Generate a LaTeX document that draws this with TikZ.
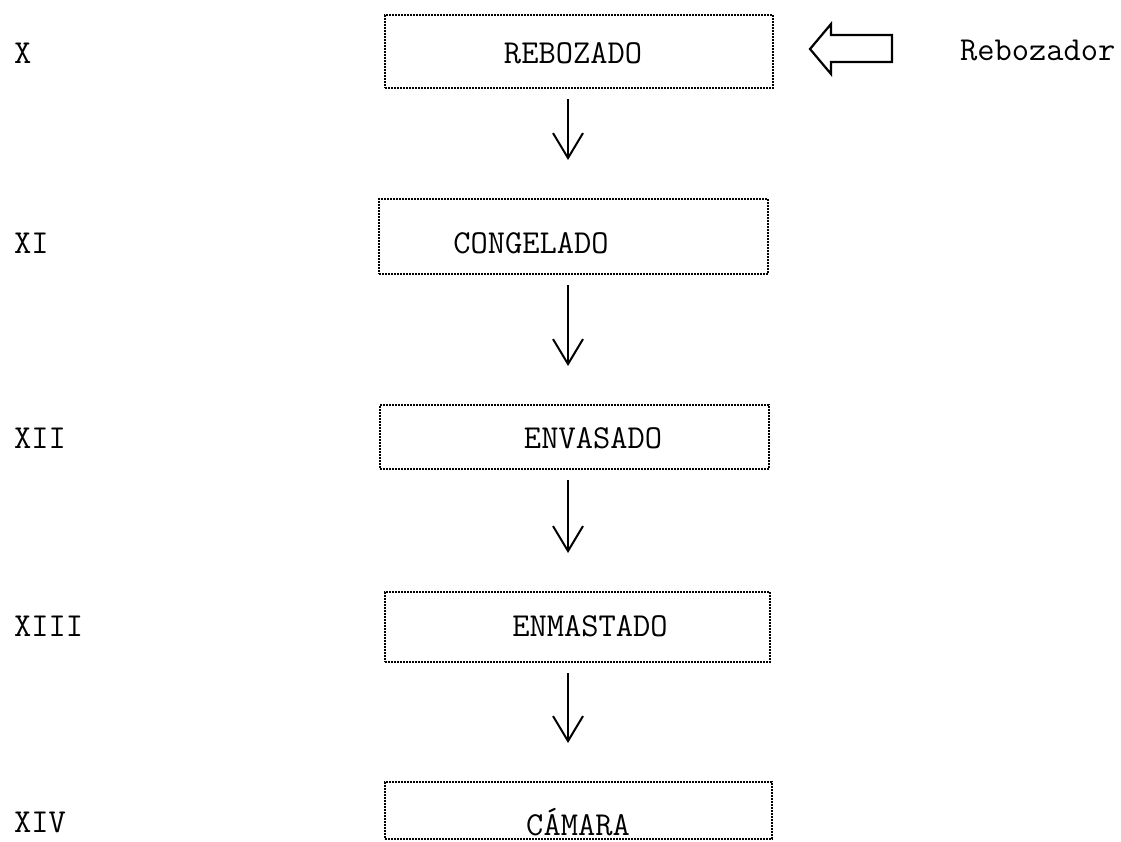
\documentclass[tikz,border=0pt]{standalone}
\usepackage{fontspec}
\usetikzlibrary{arrows.meta}
\begin{document}
\begin{tikzpicture}[x=1pt,y=1pt,
  box/.style={draw=black, line width=2pt, dash pattern=on 1.6pt off 1.4pt, inner sep=0pt, anchor=center},
  txt/.style={font=\ttfamily\fontsize{33.5}{35}\selectfont, inner sep=0pt},
  lbl/.style={font=\ttfamily\fontsize{33.5}{35}\selectfont, inner sep=0pt, anchor=west},
  flow/.style={line width=2pt, -{Straight Barb[length=25pt,width=30pt,line width=2pt]}, shorten <=10pt, shorten >=38pt},
  hollow/.style={line width=2.2pt, line join=miter}
]
\useasboundingbox (0,0) rectangle (1121,-841);
% boxes
\node[box, minimum width=388pt, minimum height=73pt] (b1) at (579,-51.5) {};
\node[box, minimum width=389pt, minimum height=75pt] (b2) at (573.5,-236.5) {};
\node[box, minimum width=389pt, minimum height=64pt] (b3) at (574.5,-437) {};
\node[box, minimum width=385pt, minimum height=70pt] (b4) at (577.5,-627) {};
\node[box, minimum width=387pt, minimum height=57pt] (b5) at (578.5,-810.5) {};
% box texts
\node[txt] (t1) at (573,-53) {REBOZADO};
\node[txt] (t2) at (531,-243) {CONGELADO};
\node[txt] (t3) at (593,-438) {ENVASADO};
\node[txt] (t4) at (590,-626) {ENMASTADO};
\node[txt] (t5) at (578,-822) {CÁMARA};
% stage labels
\node[lbl] (l1) at (14,-53) {X};
\node[lbl] (l2) at (14,-243) {XI};
\node[lbl] (l3) at (14,-438) {XII};
\node[lbl] (l4) at (14,-626) {XIII};
\node[lbl] (l5) at (14,-822) {XIV};
\node[lbl] (reb) at (960,-50) {Rebozador};
% flow arrows
\coordinate (ax) at (568,0);
\draw[flow] (b1.south -| ax) -- (b2.north -| ax);
\draw[flow] (b2.south -| ax) -- (b3.north -| ax);
\draw[flow] (b3.south -| ax) -- (b4.north -| ax);
\draw[flow] (b4.south -| ax) -- (b5.north -| ax);
% hollow input arrow
\draw[hollow] (810,-49) -- (831,-24) -- (831,-35) -- (892,-35) -- (892,-62) -- (831,-62) -- (831,-74) -- cycle;
\end{tikzpicture}
\end{document}
